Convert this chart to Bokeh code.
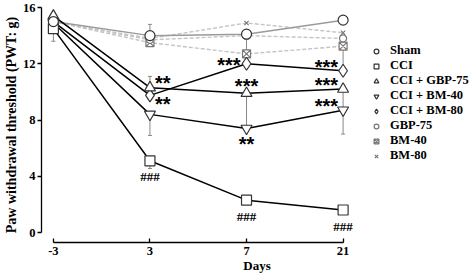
from bokeh.plotting import figure
from bokeh.models import (Range1d, FixedTicker, Legend, LegendItem, ColumnDataSource,
                          Whisker, TeeHead)
from bokeh.core.properties import value
from bokeh.embed import file_html
from bokeh.resources import INLINE

days = ["-3", "3", "7", "21"]
sham = [15.0, 14.0, 14.1, 15.1]
cci = [14.5, 5.1, 2.3, 1.6]
cci_gbp75 = [15.4, 10.3, 9.9, 10.2]
cci_bm40 = [14.9, 8.4, 7.4, 8.7]
cci_bm80 = [15.0, 9.75, 12.0, 11.5]
gbp75 = [15.0, 13.7, 14.0, 13.8]
bm40 = [15.0, 13.5, 12.7, 13.25]
bm80 = [15.0, 13.8, 14.9, 14.2]

# error bars (lower, upper) per day
sham_err = ([0, 0, 0, 0], [0, 0.8, 0, 0])
cci_err = ([0.9, 0.55, 0.25, 0.25], [0, 0, 0, 0])
cci_gbp75_err = ([0, 0, 0, 0], [0, 0.8, 0, 0])
cci_bm40_err = ([0, 1.5, 0, 1.7], [0, 0, 2.4, 1.5])
cci_bm80_err = ([0, 0, 0, 0], [0, 0, 0, 2.3])
bm40_err = ([0, 0, 0, 0], [0, 0, 1.2, 0])

y_ticks = [0, 4, 8, 12, 16]

# annotations: (series, day index, text, placement)
stars = [
    ("cci_gbp75", 1, "**", "right_up"),
    ("cci_bm80", 1, "**", "right_down"),
    ("cci_bm80", 2, "***", "left"),
    ("cci_gbp75", 2, "***", "above"),
    ("cci_bm40", 2, "**", "below"),
    ("cci_bm80", 3, "***", "left_up"),
    ("cci_gbp75", 3, "***", "left_up"),
    ("cci_bm40", 3, "***", "left_up"),
]
hashes = [("cci", 1, "###"), ("cci", 2, "###"), ("cci", 3, "###")]

series = {
    "sham": sham, "cci": cci, "cci_gbp75": cci_gbp75, "cci_bm40": cci_bm40,
    "cci_bm80": cci_bm80, "gbp75": gbp75, "bm40": bm40, "bm80": bm80,
}

xs = list(range(len(days)))
SERIF = "Liberation Serif"

p = figure(width=472, height=275, output_backend="svg", toolbar_location=None,
           x_range=Range1d(-0.123, 4.34), y_range=Range1d(-0.71, 16.0),
           min_border_left=36, min_border_right=0, min_border_top=7, min_border_bottom=33)
p.outline_line_color = None
p.grid.visible = False
p.background_fill_color = "white"

# axes
p.xaxis.ticker = FixedTicker(ticks=xs)
p.xaxis.major_label_overrides = {i: d for i, d in enumerate(days)}
p.xaxis.bounds = (0, len(days) - 1)
p.yaxis.ticker = FixedTicker(ticks=y_ticks)
p.yaxis.bounds = (0, 16)
for ax in (p.xaxis[0], p.yaxis[0]):
    ax.axis_line_width = 1.3
    ax.major_tick_line_width = 1.3
    ax.minor_tick_out = 0
    ax.minor_tick_in = 0
    ax.major_label_text_font = SERIF
    ax.major_label_text_font_style = "bold"
    ax.major_label_text_font_size = "12.5px"
    ax.major_label_text_color = "black"
    ax.axis_label_text_font = SERIF
    ax.axis_label_text_font_style = "bold"
    ax.axis_label_text_font_size = "13px"
    ax.axis_label_text_color = "black"
p.yaxis.major_tick_out = 4
p.yaxis.major_tick_in = 0
p.xaxis.major_tick_out = 0
p.xaxis.major_tick_in = 4
p.xaxis.axis_label = "Days"
p.xaxis.major_label_standoff = 4
p.xaxis.axis_label_standoff = 0
p.yaxis.axis_label = "Paw withdrawal threshold (PWT: g)"
p.yaxis.axis_label_text_font_size = "14px"
p.yaxis.major_label_standoff = 2
p.yaxis.axis_label_standoff = 1

# lines
for key in ("gbp75", "bm40", "bm80"):
    p.line(xs, series[key], line_color="#c4c4c4", line_width=1.4, line_dash="4 2")
p.line(xs, sham, line_color="#9a9a9a", line_width=1.5)
for key in ("cci", "cci_gbp75", "cci_bm40", "cci_bm80"):
    p.line(xs, series[key], line_color="black", line_width=1.5)

# error bars
for key, (lo, hi) in [("sham", sham_err), ("cci", cci_err), ("cci_gbp75", cci_gbp75_err),
                      ("cci_bm40", cci_bm40_err), ("cci_bm80", cci_bm80_err), ("bm40", bm40_err)]:
    ys = series[key]
    src = ColumnDataSource(dict(x=xs, lower=[y - l for y, l in zip(ys, lo)],
                                upper=[y + h for y, h in zip(ys, hi)]))
    p.add_layout(Whisker(source=src, base="x", lower="lower", upper="upper",
                         line_color="#888888", line_width=1,
                         lower_head=TeeHead(size=4, line_color="#888888", line_width=1),
                         upper_head=TeeHead(size=4, line_color="#888888", line_width=1)))

# markers
marker_style = {
    "sham": ("circle", 10, "#333333"),
    "cci": ("square", 10, "#333333"),
    "cci_gbp75": ("triangle", 11, "#333333"),
    "cci_bm40": ("inverted_triangle", 11, "#333333"),
    "cci_bm80": ("diamond", 13, "#333333"),
    "gbp75": ("circle", 7, "#777777"),
    "bm40": ("square_x", 8, "#777777"),
    "bm80": ("x", 6, "#777777"),
}
labels = {
    "sham": "Sham", "cci": "CCI", "cci_gbp75": "CCI + GBP-75", "cci_bm40": "CCI + BM-40",
    "cci_bm80": "CCI + BM-80", "gbp75": "GBP-75", "bm40": "BM-40", "bm80": "BM-80",
}
renderers = {}
for key in ("bm80", "bm40", "gbp75", "cci_bm80", "cci_bm40", "cci_gbp75", "cci", "sham"):
    m, s, c = marker_style[key]
    renderers[key] = p.scatter(xs, series[key], marker=m, size=s, fill_color="white",
                               line_color=c, line_width=1.2)

# annotations
offsets = {
    "right_up": (5, 8, "left"),
    "right_down": (5, -6, "left"),
    "left": (-6, 2, "right"),
    "above": (0, 10, "center"),
    "below": (0, -13, "center"),
    "left_up": (-5, 7, "right"),
}
for key, i, txt, place in stars:
    dx, dy, align = offsets[place]
    p.text(x=[xs[i]], y=[series[key][i]], text=[txt], x_offset=dx, y_offset=-dy + 3,
           text_align=align, text_baseline="middle", text_font=value("Liberation Sans"),
           text_font_style="bold", text_font_size="20px", text_color="black")
for key, i, txt in hashes:
    p.text(x=[xs[i]], y=[series[key][i]], text=[txt], x_offset=0, y_offset=16,
           text_align="center", text_baseline="middle", text_font=value(SERIF),
           text_font_style="bold", text_font_size="13px", text_color="black")

# legend
order = ["sham", "cci", "cci_gbp75", "cci_bm40", "cci_bm80", "gbp75", "bm40", "bm80"]
legend = Legend(items=[LegendItem(label=labels[k], renderers=[renderers[k]]) for k in order],
                location=(328, 79), border_line_color=None, background_fill_alpha=0,
                padding=0, margin=0, spacing=-3, label_height=12, glyph_height=12,
                glyph_width=14, label_standoff=7,
                label_text_font=SERIF, label_text_font_style="bold",
                label_text_font_size="12.5px", label_text_color="black")
p.add_layout(legend)

open("out.html", "w").write(file_html(p, INLINE))
